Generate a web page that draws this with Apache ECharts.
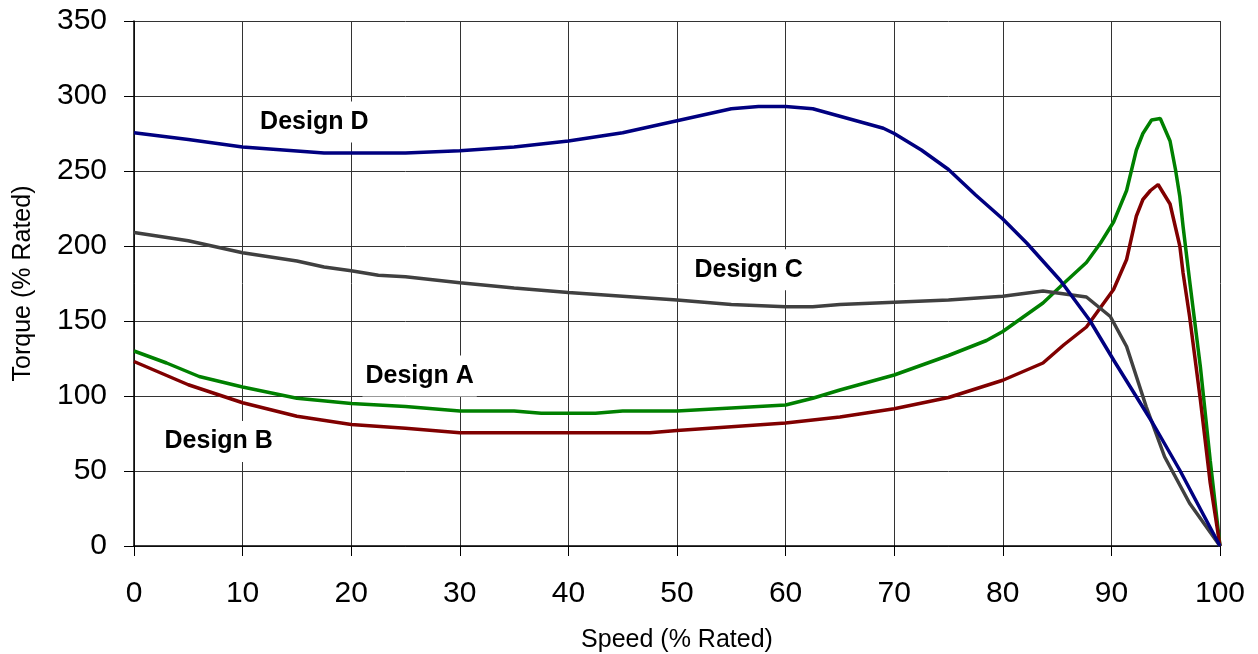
<!DOCTYPE html>
<html>
<head>
<meta charset="utf-8">
<script src="https://cdn.jsdelivr.net/npm/echarts@6/dist/echarts.min.js"></script>
<style>
html,body{margin:0;padding:0;background:#fff;}
#chart{width:1258px;height:654px;}
</style>
</head>
<body>
<div id="chart"></div>
<script>
// ---- data ----
const xTicks = [0,10,20,30,40,50,60,70,80,90,100];
const yTicks = [0,50,100,150,200,250,300,350];

const aSpeed = [0,3,6,10,15,20,25,30,35,37.5,42.5,45,50,55,60,62.5,65,70,75,78.5,80,83.7,85.6,87.7,89,90.2,91.4,92.3,92.9,93.7,94.5,95.4,95.9,96.3,96.6,97.2,98.2,99.1,100];
const aTorque = [130,122,113,106,98.5,95,93,90,90,88.5,88.5,90,90,92,94,98.5,104,114,127,137,143,162,175,189,202,216,237,264,275,284,285,270,251,233,213,177,119,57,0];

const bSpeed = [0,5,10,15,20,25,30,35,40,47.5,50,55,60,65,70,75,80,83.7,85.6,87.7,90.2,91.4,92.3,92.9,93.6,94.3,95.4,96.3,96.6,97.2,98.2,99.1,100];
const bTorque = [123,107.5,95.5,86.5,81,78.5,75.5,75.5,75.5,75.5,77,79.5,82,86,91.5,99,110.5,122,134,146,171,191,220,231,237,241,228,200,182,153,97,42,0];

const cSpeed = [0,5,10,15,17.5,20,22.5,25,30,35,40,50,55,60,62.5,65,70,75,80,83.7,87.7,89.9,91.4,93.2,94.9,97.2,100];
const cTorque = [209,203.5,195.5,190,186,183.5,180.5,179.5,175.5,172,169,164,161,159.5,159.5,161,162.5,164,166.5,170,166,153,133,93,59.5,28.5,0];

const dSpeed = [0,5,10,17.5,25,30,35,40,45,50,55,57.5,60,62.5,65,69,70,72.5,75,77.5,80,82.2,85.3,88,90.2,93.8,96.3,100];
const dTorque = [275.5,271,266,262,262,263.5,266,270,275.5,283.5,291.5,293,293,291.5,286.5,278.5,275,264,251,234,218,202,177,150.5,124,82,50.5,0];

const seriesNames = ['Design A','Design B','Design C','Design D'];
// annotation anchor points (speed, torque)
const labelAnchors = [[26.3,113.4],[7.8,69.6],[56.6,184.2],[16.6,282.7]];

// ---- chart ----
const pairs = (xs, ys) => xs.map((x, i) => [x, ys[i]]);
const colors = ['#008000','#800000','#404040','#000080'];
const sets = [pairs(aSpeed,aTorque), pairs(bSpeed,bTorque), pairs(cSpeed,cTorque), pairs(dSpeed,dTorque)];

const chart = echarts.init(document.getElementById('chart'), null, {renderer:'canvas'});
const font = 'Arial, "Liberation Sans", sans-serif';

chart.setOption({
  backgroundColor: '#ffffff',
  animation: false,
  grid: {left:134, right:38, top:21, bottom:108, containLabel:false, outerBoundsMode:'none'},
  xAxis: {
    type:'value', min:xTicks[0], max:xTicks[xTicks.length-1], interval:xTicks[1]-xTicks[0],
    name:'Speed (% Rated)', nameLocation:'middle', nameGap:82,
    nameTextStyle:{fontFamily:font, fontSize:25, color:'#000'},
    axisLine:{show:true, onZero:false, lineStyle:{color:'#000', width:1.5}},
    axisTick:{show:true, length:10, lineStyle:{color:'#000', width:1}},
    axisLabel:{fontFamily:font, fontSize:30, color:'#000', margin:33},
    splitLine:{show:true, lineStyle:{color:'#333', width:1}}
  },
  yAxis: {
    type:'value', min:yTicks[0], max:yTicks[yTicks.length-1], interval:yTicks[1]-yTicks[0],
    name:'Torque (% Rated)', nameLocation:'middle', nameGap:98, nameRotate:90,
    nameTextStyle:{fontFamily:font, fontSize:25, color:'#000'},
    axisLine:{show:true, onZero:false, lineStyle:{color:'#000', width:1.5}},
    axisTick:{show:true, length:10, lineStyle:{color:'#000', width:1}},
    axisLabel:{fontFamily:font, fontSize:30, color:'#000', margin:27},
    splitLine:{show:true, lineStyle:{color:'#333', width:1}}
  },
  series: seriesNames.map((name, i) => ({
    name: name,
    type:'line',
    data: sets[i],
    showSymbol:false,
    symbol:'none',
    smooth:false,
    z: 3 + i,
    lineStyle:{color:colors[i], width:3.5},
    markPoint:{
      symbol:'rect', symbolSize:1,
      itemStyle:{color:'rgba(0,0,0,0)'},
      z: 2,
      label:{
        show:true, position:'inside', formatter:name,
        fontFamily:font, fontWeight:'bold', fontSize:25, color:'#000',
        backgroundColor:'#fff', padding:[8,3]
      },
      data:[{coord: labelAnchors[i]}]
    }
  }))
});
</script>
</body>
</html>
